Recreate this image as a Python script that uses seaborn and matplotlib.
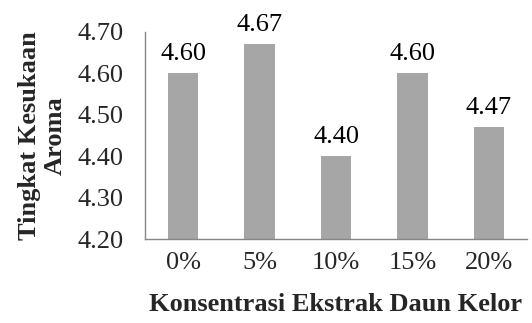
import matplotlib
matplotlib.use("Agg")
import matplotlib.pyplot as plt
import seaborn as sns
import pandas as pd

# Concentration of moringa leaf extract and mean aroma preference scores
categories = ["0%", "5%", "10%", "15%", "20%"]
scores = [4.60, 4.67, 4.40, 4.60, 4.47]
y_ticks = [4.20, 4.30, 4.40, 4.50, 4.60, 4.70]

sns.set_theme(style="white")
plt.rcParams["font.family"] = ["Liberation Serif", "DejaVu Serif"]

df = pd.DataFrame({"konsentrasi": categories, "skor": scores})

fig = plt.figure(figsize=(5.32, 3.23), dpi=100)
ax = fig.add_axes([0.2726, 0.260, 0.718, 0.641])

sns.barplot(data=df, x="konsentrasi", y="skor", color="#a6a6a6",
            saturation=1, width=0.4, ax=ax, edgecolor="none")

axis_gray = "#868686"
fs = 19

ax.set_ylim(y_ticks[0], y_ticks[-1])
ax.set_yticks(y_ticks)
ax.set_yticklabels([f"{t:.2f}" for t in y_ticks], fontsize=fs)

n = len(categories)
ax.set_xlim(-0.5, n - 0.5)
ax.set_xticks([i - 0.5 for i in range(n + 1)])
ax.set_xticklabels([])
ax.set_xticks(range(n), minor=True)
ax.set_xticklabels(categories, minor=True, fontsize=fs)
ax.tick_params(axis="x", which="major", direction="out", length=5.5,
               width=1, color=axis_gray)
ax.tick_params(axis="x", which="minor", length=0, pad=9)
ax.tick_params(axis="y", direction="out", length=5.5, width=1,
               color=axis_gray, pad=10)

for side in ["top", "right"]:
    ax.spines[side].set_visible(False)
for side in ["left", "bottom"]:
    ax.spines[side].set_color(axis_gray)
    ax.spines[side].set_linewidth(1.0)

for i, v in enumerate(scores):
    ax.annotate(f"{v:.2f}", (i, v), xytext=(0, 6), textcoords="offset points",
                ha="center", va="bottom", fontsize=fs, color="black")

ax.set_xlabel("Konsentrasi Ekstrak Daun Kelor", fontsize=fs,
              fontweight="bold", labelpad=14)
ax.set_ylabel("Tingkat Kesukaan\nAroma", fontsize=fs, fontweight="bold",
              linespacing=1.1, labelpad=8)

fig.savefig("out.png", dpi=100)
